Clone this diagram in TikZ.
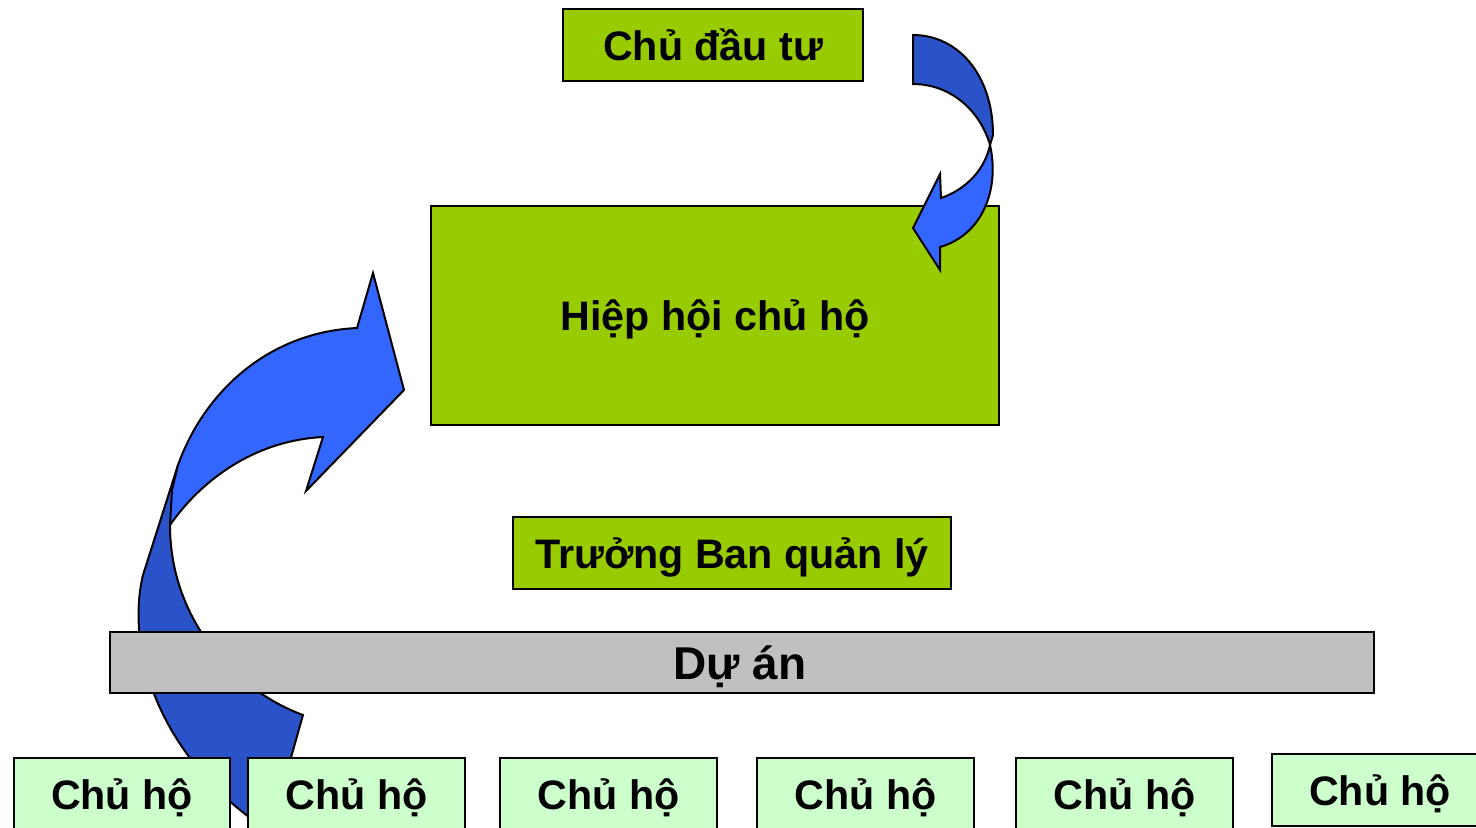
\documentclass[tikz,border=0pt]{standalone}
\usepackage{fontspec}
\setmainfont{Liberation Sans}
\definecolor{boxgreen}{HTML}{99CC00}
\definecolor{hogreen}{HTML}{CCFFCC}
\definecolor{bargray}{HTML}{C0C0C0}
\definecolor{arrowlight}{HTML}{3366FF}
\definecolor{arrowdark}{HTML}{2B53C9}
\begin{document}
\begin{tikzpicture}[x=0.5pt,y=-0.5pt,
  every node/.style={font=\fontsize{20.6pt}{24pt}\selectfont\bfseries, text height=15pt, text depth=0pt, inner sep=0pt},
  gbox/.style={draw=black, line width=1pt, fill=boxgreen},
  hobox/.style={draw=black, line width=1pt, fill=hogreen, minimum width=108pt, minimum height=36pt},
  barbox/.style={draw=black, line width=1pt, fill=bargray},
  arrowface/.style={draw=black, line width=1pt, line join=miter}]
\useasboundingbox (0,0) rectangle (1476,827);

% left curved arrow (behind the bar and the boxes)
\fill[white] (0,0) rectangle (1476,827);
\draw[arrowface, fill=arrowdark] (178,465) -- (143,575) .. controls (125,650) and (160,760) .. (270,832) -- (303,715) .. controls (235,690) and (170,620) .. (170,525) -- cycle;
\draw[arrowface, fill=arrowlight] (178,465) .. controls (205,390) and (270,332) .. (357,328) -- (373,273) -- (404,390) -- (306,491) -- (323,437) .. controls (260,440) and (205,475) .. (170,525) -- (172,490) -- cycle;

% boxes
\node[gbox, minimum width=150pt, minimum height=36pt] (dautu) at (713,45) {Chủ đầu tư};
\node[gbox, minimum width=284pt, minimum height=109.5pt] (hiephoi) at (715,315.5) {Hiệp hội chủ hộ};
\node[gbox, minimum width=219pt, minimum height=36pt] (truongban) at (732,553) {Trưởng Ban quản lý};
\node[barbox, minimum width=632pt, minimum height=30.5pt, font=\fontsize{23pt}{27pt}\selectfont\bfseries, text height=17pt] (duan) at (742,662.5) {\hspace*{-2pt}Dự án};

\node[hobox] (ho1) at (122,794) {Chủ hộ};
\node[hobox, minimum width=108.5pt] (ho2) at (356.5,794) {Chủ hộ};
\node[hobox, minimum width=108.5pt] (ho3) at (608.5,794) {Chủ hộ};
\node[hobox, minimum width=108.5pt] (ho4) at (865.5,794) {Chủ hộ};
\node[hobox, minimum width=108.5pt] (ho5) at (1124.5,794) {Chủ hộ};
\node[hobox] (ho6) at (1380,790) {Chủ hộ};

% top-right curved arrow (over the Hiep hoi box)
\draw[arrowface, fill=arrowdark] (913,35) .. controls (958,35) and (993,75) .. (993,135) -- (990,145) .. controls (980,110) and (950,84) .. (913,84) -- cycle;
\draw[arrowface, fill=arrowlight] (990,145) .. controls (1000,190) and (982,235) .. (940,247) -- (940,270) -- (913,228) -- (940,174) -- (941,198) .. controls (965,190) and (985,170) .. cycle;
\end{tikzpicture}
\end{document}
